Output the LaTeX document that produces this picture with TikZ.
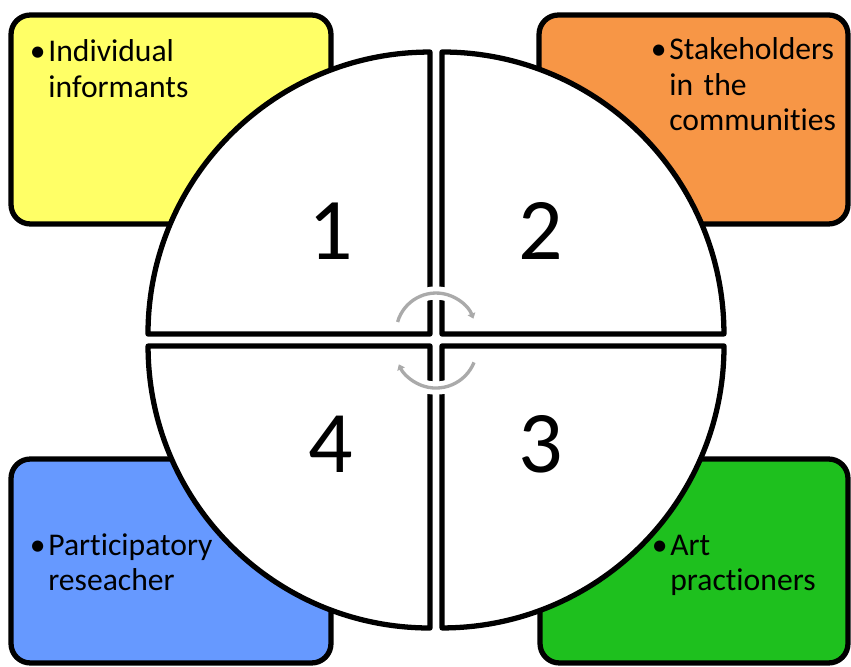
\documentclass[tikz,border=0pt]{standalone}
\usepackage{fontspec}
\setmainfont{Carlito}[Ligatures=NoCommon]
\usetikzlibrary{arrows.meta}
\definecolor{boxyellow}{RGB}{255,255,102}
\definecolor{boxorange}{RGB}{247,150,70}
\definecolor{boxblue}{RGB}{102,153,255}
\definecolor{boxgreen}{RGB}{30,192,30}
\definecolor{cycgray}{RGB}{170,170,170}

\begin{document}
\begin{tikzpicture}
  [x=0.02cm, y=0.02cm,
   box/.style={draw, rounded corners=11pt, line width=3pt, inner sep=0},
   quad/.style={draw, fill=white, line width=3pt, line join=round},
   num/.style={inner sep=0, font=\fontsize{50}{60}\selectfont},
   lbl/.style={inner sep=0, anchor=base west, text width=4.2cm, align=left, font=\fontsize{18}{20}\selectfont},
   cyc/.style={draw=cycgray, line width=1.9pt, preaction={draw=white, line width=7.5pt, arrows=-},
     -{Triangle[length=3pt,width=4.5pt]}}]

  \useasboundingbox (0,0) rectangle (851,666);

  % corner boxes
  \node[box, fill=boxyellow, minimum width=6.4cm, minimum height=4.18cm] (b1) at (171,546.5) {};
  \node[box, fill=boxorange, minimum width=6.18cm, minimum height=4.18cm] (b2) at (693.5,546.5) {};
  \node[box, fill=boxgreen, minimum width=6.16cm, minimum height=4.08cm] (b3) at (694,105) {};
  \node[box, fill=boxblue, minimum width=6.4cm, minimum height=4.08cm] (b4) at (171,105) {};

  % quarters of the circle
  \draw[quad] (430,332) -- (148,332) arc[start angle=180, end angle=90, radius=5.64cm] -- cycle;
  \draw[quad] (442,332) -- (442,614) arc[start angle=90, end angle=0, radius=5.64cm] -- cycle;
  \draw[quad] (442,320) -- (724,320) arc[start angle=0, end angle=-90, radius=5.64cm] -- cycle;
  \draw[quad] (430,320) -- (430,38) arc[start angle=-90, end angle=-180, radius=5.64cm] -- cycle;

  \node[num] (n1) at (331,434.5) {1};
  \node[num] (n2) at (541,434.5) {2};
  \node[num] (n3) at (540.5,222) {3};
  \node[num] (n4) at (331,222) {4};

  % cycle arrows
  \draw[cyc] (397.6,344) arc[start angle=164, end angle=21, radius=0.8cm];
  \draw[cyc] (474,303.6) arc[start angle=-22, end angle=-155, radius=0.82cm];

  % labels
  \node[lbl] (t1) at (48,604) {\llap{\textbullet\hspace{1.5pt}}Individual\\informants};
  \node[lbl] (t2) at (669,606) {\llap{\textbullet\hspace{1.5pt}}Stakeholders\\in the\\communities};
  \node[lbl] (t3) at (670,111) {\llap{\textbullet\hspace{1.5pt}}Art\\practioners};
  \node[lbl] (t4) at (48,111) {\llap{\textbullet\hspace{1.5pt}}Participatory\\reseacher};
\end{tikzpicture}
\end{document}
